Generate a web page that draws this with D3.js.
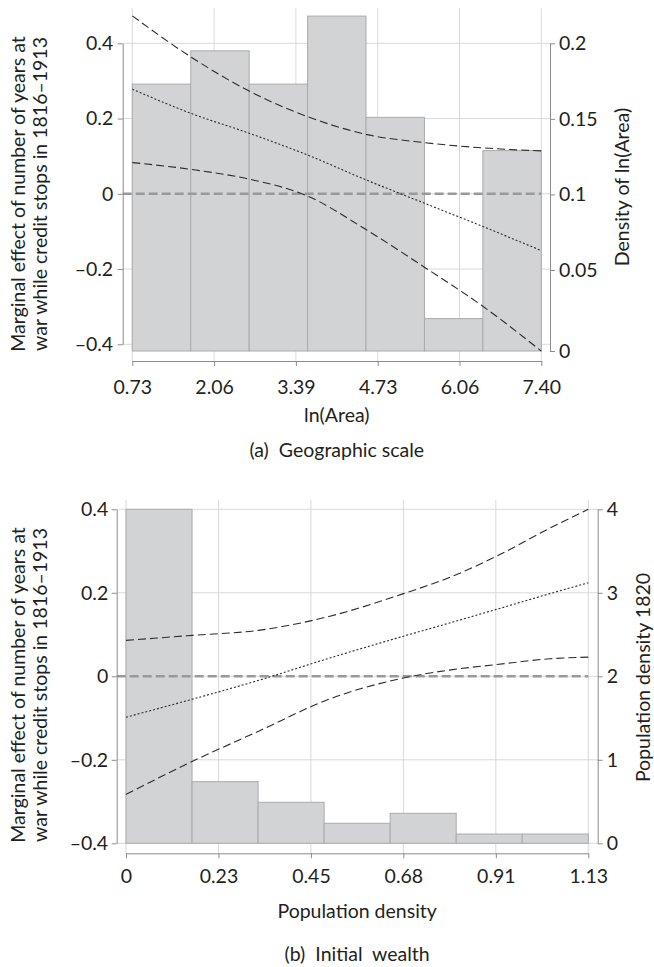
<!DOCTYPE html>
<html>
<head>
<meta charset="utf-8">
<script src="https://cdn.jsdelivr.net/npm/d3@7"></script>
<style>
  body { margin: 0; background: #fff; }
  text { font-family: Lato, "Open Sans", sans-serif; fill: #231f20; }
</style>
</head>
<body>
<svg id="chart" width="654" height="967"></svg>
<script>
// ---- data ----
// shared left axis (marginal effect)
const effectTicks = [-0.4, -0.2, 0, 0.2, 0.4];

// (a) geographic scale
const areaTickLabels = ["0.73", "2.06", "3.39", "4.73", "6.06", "7.40"];
const areaDensity = [0.173, 0.195, 0.173, 0.218, 0.151, 0.020, 0.129];
const areaDensityTicks = [0, 0.05, 0.1, 0.15, 0.2];
const areaX = [0.73, 1.683, 2.636, 3.589, 4.541, 5.494, 6.447, 7.40];
const areaUpper = [0.473, 0.364, 0.273, 0.205, 0.158, 0.136, 0.122, 0.114];
const areaMid = [0.278, 0.214, 0.161, 0.103, 0.037, -0.025, -0.087, -0.151];
const areaLower = [0.083, 0.065, 0.039, -0.006, -0.095, -0.195, -0.299, -0.418];

// (b) initial wealth
const popTickLabels = ["0", "0.23", "0.45", "0.68", "0.91", "1.13"];
const popDensity = [4.0, 0.738, 0.491, 0.240, 0.359, 0.111, 0.111];
const popDensityTicks = [0, 1, 2, 3, 4];
const popX = [0, 0.162, 0.324, 0.5, 0.68, 0.801, 0.907, 1.039, 1.133];
const popUpper = [0.086, 0.098, 0.110, 0.144, 0.198, 0.240, 0.287, 0.355, 0.400];
const popMid = [-0.098, -0.055, -0.010, 0.044, 0.096, 0.130, 0.160, 0.198, 0.224];
const popLower = [-0.283, -0.204, -0.132, -0.054, -0.004, 0.016, 0.028, 0.042, 0.046];

const leftTitle = ["Marginal effect of number of years at", "war while credit stops in 1816\u20131913"];

const svg = d3.select("#chart");
const fs = 19.5;
const axisGrey = "#8c8c8c";

function fmtEffect(d) {
  if (d === 0) return "0";
  return (d < 0 ? "\u2013" : "") + Math.abs(d).toFixed(1);
}

function drawPanel(p) {
  const g = svg.append("g");
  const x = d3.scaleLinear().domain(p.xDomain).range(p.xRange);
  const yL = d3.scaleLinear().domain([-0.4, 0.4]).range(p.yLeftRange);
  const yR = d3.scaleLinear().domain(p.yRightDomain).range(p.yRightRange);

  const [x0, x1] = p.xDomain;
  const xTicks = p.tickLabels.map((l, i) => x0 + i * (x1 - x0) / (p.tickLabels.length - 1));
  const nb = p.density.length;
  const edges = d3.range(nb + 1).map(i => x0 + i * (x1 - x0) / nb);

  // gridlines
  g.append("g").selectAll("line.h")
    .data(effectTicks)
    .join("line")
    .attr("x1", p.leftAxisX).attr("x2", p.rightAxisX)
    .attr("y1", d => yL(d)).attr("y2", d => yL(d))
    .attr("stroke", "#d9d9d9").attr("stroke-width", 1);
  g.append("g").selectAll("line.v")
    .data(xTicks)
    .join("line")
    .attr("x1", d => x(d)).attr("x2", d => x(d))
    .attr("y1", p.plotTop).attr("y2", p.xAxisY)
    .attr("stroke", "#d9d9d9").attr("stroke-width", 1);

  // histogram
  g.append("g").selectAll("rect")
    .data(p.density)
    .join("rect")
    .attr("x", (d, i) => x(edges[i]))
    .attr("width", (d, i) => x(edges[i + 1]) - x(edges[i]))
    .attr("y", d => yR(d))
    .attr("height", d => yR(0) - yR(d))
    .attr("fill", "#d2d3d5")
    .attr("stroke", "#aaabad")
    .attr("stroke-width", 1);

  // zero reference
  g.append("line")
    .attr("x1", p.leftAxisX).attr("x2", p.xRange[1])
    .attr("y1", yL(0)).attr("y2", yL(0))
    .attr("stroke", "#999").attr("stroke-width", 2.6)
    .attr("stroke-dasharray", "9,4");

  // fitted effect and confidence band
  const line = d3.line().x(d => x(d[0])).y(d => yL(d[1])).curve(d3.curveMonotoneX);
  const series = [
    { v: p.upper, dash: "8,4" },
    { v: p.lower, dash: "8,4" },
    { v: p.mid, dash: "2,2" }
  ];
  series.forEach(s => {
    g.append("path")
      .attr("d", line(p.xs.map((xv, i) => [xv, s.v[i]])))
      .attr("fill", "none")
      .attr("stroke", "#2b2b2b")
      .attr("stroke-width", 1.1)
      .attr("stroke-dasharray", s.dash);
  });

  // axes
  const left = g.append("g")
    .attr("transform", `translate(${p.leftAxisX},0)`)
    .call(d3.axisLeft(yL).tickValues(effectTicks).tickFormat(fmtEffect)
      .tickSize(5).tickSizeOuter(0).tickPadding(p.leftPad));
  const right = g.append("g")
    .attr("transform", `translate(${p.rightAxisX},0)`)
    .call(d3.axisRight(yR).tickValues(p.densityTicks).tickFormat(p.densityFmt)
      .tickSize(5).tickSizeOuter(0).tickPadding(4));
  const bottom = g.append("g")
    .attr("transform", `translate(0,${p.xAxisY})`)
    .call(d3.axisBottom(x).tickValues(xTicks).tickFormat((d, i) => p.tickLabels[i])
      .tickSize(5).tickSizeOuter(0).tickPadding(p.bottomPad));
  [left, right, bottom].forEach(a => {
    a.selectAll("path, line").attr("stroke", axisGrey);
    a.selectAll("text").attr("font-size", fs).attr("font-family", "Lato, 'Open Sans', sans-serif").attr("fill", "#231f20");
  });

  // titles
  leftTitle.forEach((t, i) => {
    g.append("text")
      .attr("transform", `translate(${p.leftTitleX[i]},${p.leftTitleY}) rotate(-90)`)
      .attr("text-anchor", "middle").attr("dy", "0.35em")
      .attr("font-size", fs)
      .text(t);
  });
  g.append("text")
    .attr("transform", `translate(${p.rightTitleX},${p.rightTitleY}) rotate(-90)`)
    .attr("text-anchor", "middle").attr("dy", "0.35em")
    .attr("font-size", fs)
    .text(p.rightTitle);
  const cx = (p.xRange[0] + p.xRange[1]) / 2;
  g.append("text")
    .attr("x", cx).attr("y", p.xTitleY)
    .attr("text-anchor", "middle").attr("font-size", fs)
    .text(p.xTitle);
  g.append("text")
    .attr("x", cx).attr("y", p.panelTitleY)
    .attr("text-anchor", "middle").attr("font-size", fs)
    .attr("xml:space", "preserve")
    .text(p.panelTitle);
}

drawPanel({
  xDomain: [0.73, 7.40], xRange: [132.3, 541.3],
  yLeftRange: [344.3, 43.3],
  yRightDomain: [0, 0.05, 0.2], yRightRange: [351, 270, 43.3],
  leftAxisX: 122.7, rightAxisX: 550, plotTop: 8.3, xAxisY: 361,
  tickLabels: areaTickLabels, density: areaDensity, densityTicks: areaDensityTicks,
  densityFmt: d => d === 0 ? "0" : String(d),
  xs: areaX, upper: areaUpper, mid: areaMid, lower: areaLower,
  leftPad: 4.5, bottomPad: 14,
  leftTitleX: [18.3, 40], leftTitleY: 194,
  rightTitle: "Density of ln(Area)", rightTitleX: 621.7, rightTitleY: 187,
  xTitle: "ln(Area)", xTitleY: 422,
  panelTitle: "(a)  Geographic scale", panelTitleY: 457
});

drawPanel({
  xDomain: [0, 1.133], xRange: [126, 588.3],
  yLeftRange: [843.3, 509.3],
  yRightDomain: [0, 4], yRightRange: [843.3, 509.3],
  leftAxisX: 116.7, rightAxisX: 597.7, plotTop: 500, xAxisY: 853.3,
  tickLabels: popTickLabels, density: popDensity, densityTicks: popDensityTicks,
  densityFmt: d => String(d),
  xs: popX, upper: popUpper, mid: popMid, lower: popLower,
  leftPad: 3.5, bottomPad: 11,
  leftTitleX: [18.3, 40], leftTitleY: 685,
  rightTitle: "Population density 1820", rightTitleX: 643.3, rightTitleY: 677.5,
  xTitle: "Population density", xTitleY: 918,
  panelTitle: "(b)  Initial  wealth", panelTitleY: 961
});
</script>
</body>
</html>
